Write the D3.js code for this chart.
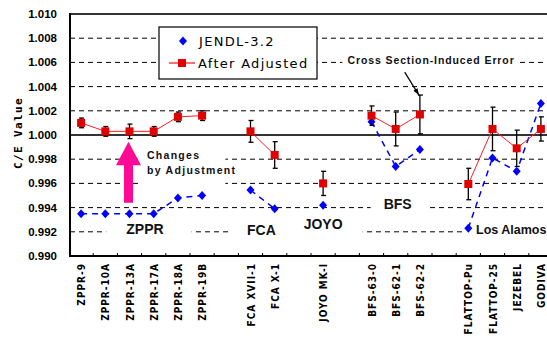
<!DOCTYPE html>
<html>
<head>
<meta charset="utf-8">
<script src="https://cdn.jsdelivr.net/npm/d3@7"></script>
<style>
  body { margin: 0; background: #fff; }
  svg { display: block; }
  .tick-lab { font-family: "DejaVu Sans Condensed", sans-serif; font-weight: bold; }
  .y-lab { font-family: "Liberation Sans", Arial, sans-serif; font-weight: bold; }
  .note { font-family: "Liberation Sans", Arial, sans-serif; font-weight: bold; fill: #111; }
</style>
</head>
<body>
<div id="chart"></div>
<script>
// experiments along the x axis ("" = empty slot between groups)
var categories = ["ZPPR-9", "ZPPR-10A", "ZPPR-13A", "ZPPR-17A", "ZPPR-18A", "ZPPR-19B", "",
                  "FCA XVII-1", "FCA X-1", "", "JOYO MK-I", "",
                  "BFS-63-0", "BFS-62-1", "BFS-62-2", "",
                  "FLATTOP-Pu", "FLATTOP-25", "JEZEBEL", "GODIVA"];

// C/E values
var jendl32  = [0.9935, 0.9935, 0.9935, 0.9935, 0.9948, 0.9950, null,
                0.99545, 0.9939, null, 0.9942, null,
                1.0011, 0.9974, 0.9988, null,
                0.9923, 0.9981, 0.9970, 1.0026];
var adjusted = [1.0010, 1.0003, 1.0003, 1.0003, 1.0015, 1.0016, null,
                1.0003, 0.99835, null, 0.9960, null,
                1.0016, 1.0005, 1.0017, null,
                0.99595, 1.0005, 0.9989, 1.0005];
// experimental error (half width) on the adjusted values
var errors   = [0.0004, 0.0004, 0.0006, 0.0004, 0.0004, 0.0004, null,
                0.0009, 0.0011, null, 0.0010, null,
                0.0008, 0.0014, 0.0016, null,
                0.0013, 0.0018, 0.0015, 0.0010];

var yTicks = [0.990, 0.992, 0.994, 0.996, 0.998, 1.000, 1.002, 1.004, 1.006, 1.008, 1.010];

var width = 547, height = 339;
var plotLeft = 70, plotTop = 14, plotBottom = 256;
var slot = 24.2;

var svg = d3.select('#chart').append('svg')
    .attr('width', width)
    .attr('height', height);

var x = d3.scaleBand()
    .domain(d3.range(categories.length))
    .range([69, 69 + slot * categories.length])
    .padding(0);

var y = d3.scaleLinear()
    .domain([0.990, 1.010])
    .range([plotBottom, plotTop]);

var cx = function(i) { return x(i) + x.bandwidth() / 2; };

// grid lines
svg.append('g').selectAll('line')
    .data(yTicks.filter(function(d) { return d > 0.9905 && d < 1.0095 && Math.abs(d - 1) > 1e-6; }))
    .enter().append('line')
    .attr('x1', plotLeft).attr('x2', width)
    .attr('y1', function(d) { return y(d); })
    .attr('y2', function(d) { return y(d); })
    .attr('stroke', '#000')
    .attr('stroke-width', 1)
    .attr('stroke-dasharray', '5,4');

// notes on white boxes (they cut the grid); i = position in slots, v = C/E level
var notes = [
    {lines: ['ZPPR'], i: 2.64, v: 0.9922, size: 14, ls: 0, pad: [20, 28, 6, 5]},
    {lines: ['FCA'], i: 7.45, v: 0.99215, size: 14, ls: 0, pad: [19, 18, 6, 5]},
    {lines: ['JOYO'], i: 10.0, v: 0.99265, size: 14, ls: 0, pad: [10, 20, 5, 5]},
    {lines: ['BFS'], i: 13.08, v: 0.9943, size: 14, ls: 0, pad: [13, 18, 3, 3]},
    {lines: ['Los Alamos'], i: 16.82, v: 0.9922, size: 12.5, ls: 0, anchor: 'start', pad: [12, 40, 4, 4]},
    {lines: ['Cross Section-Induced Error'], i: 14.46, v: 1.00615, size: 10.5, ls: 0.9, pad: [5, 5, 4, 4]},
    {lines: ['Changes', 'by Adjustment'], i: 3.22, v: 0.99836, size: 10.5, ls: 1.3, anchor: 'start', lh: 15, pad: [7, -11, 8, 12]}
];

var noteG = svg.append('g');
notes.forEach(function(n) {
    var g = noteG.append('g');
    var rect = g.append('rect').attr('fill', '#fff');
    var t = g.append('text')
        .attr('class', 'note')
        .attr('text-anchor', n.anchor || 'middle')
        .attr('font-size', n.size)
        .attr('letter-spacing', n.ls);
    n.lines.forEach(function(s, k) {
        t.append('tspan')
            .attr('x', n.anchor == 'start' ? x(0) + n.i * slot : cx(0) + n.i * slot)
            .attr('y', y(n.v) + k * (n.lh || 0) + n.size * 0.36)
            .text(s);
    });
    var b = t.node().getBBox();
    rect.attr('x', b.x - n.pad[0])
        .attr('y', b.y - n.pad[2])
        .attr('width', b.width + n.pad[0] + n.pad[1])
        .attr('height', b.height + n.pad[2] + n.pad[3]);
});

// reference line at 1.000
svg.append('line')
    .attr('x1', plotLeft).attr('x2', width)
    .attr('y1', y(1)).attr('y2', y(1))
    .attr('stroke', '#333').attr('stroke-width', 2);

// frame: top, left, bottom
svg.append('line').attr('x1', plotLeft).attr('x2', width).attr('y1', plotTop).attr('y2', plotTop)
    .attr('stroke', '#333').attr('stroke-width', 2);
svg.append('line').attr('x1', plotLeft).attr('x2', plotLeft).attr('y1', plotTop - 1).attr('y2', plotBottom + 1)
    .attr('stroke', '#000').attr('stroke-width', 2);
svg.append('line').attr('x1', plotLeft).attr('x2', width).attr('y1', plotBottom).attr('y2', plotBottom)
    .attr('stroke', '#000').attr('stroke-width', 2);

// small ticks on the bottom axis at slot edges
svg.append('g').selectAll('line')
    .data(d3.range(1, categories.length + 1))
    .enter().append('line')
    .attr('x1', function(i) { return 69 + i * slot; })
    .attr('x2', function(i) { return 69 + i * slot; })
    .attr('y1', plotBottom - 3).attr('y2', plotBottom)
    .attr('stroke', '#000');

// y tick labels
svg.append('g').selectAll('text')
    .data(yTicks)
    .enter().append('text')
    .attr('class', 'y-lab')
    .attr('x', 57)
    .attr('y', function(d) { return y(d) + 4; })
    .attr('text-anchor', 'end')
    .attr('font-size', 11.5)
    .text(function(d) { return d3.format('.3f')(d); });

// x labels, rotated
svg.append('g').selectAll('text')
    .data(categories)
    .enter().append('text')
    .attr('class', 'tick-lab')
    .attr('font-size', 10)
    .attr('letter-spacing', 1)
    .attr('text-anchor', 'end')
    .attr('transform', function(d, i) { return 'translate(' + (cx(i) + 4) + ',263) rotate(-90)'; })
    .text(function(d) { return d; });

// y axis title
svg.append('text')
    .attr('transform', 'translate(22,133) rotate(-90)')
    .attr('text-anchor', 'middle')
    .attr('font-family', '"DejaVu Sans Mono", monospace')
    .attr('font-weight', 'bold')
    .attr('font-size', 11)
    .attr('letter-spacing', 1.4)
    .text('C/E Value');

// magenta "changes" arrow
var ax = cx(2) - 1;
var arrowPts = [[ax - 4.5, y(0.9944)], [ax - 4.5, y(0.9975)], [ax - 12.5, y(0.9975)], [ax, y(0.99945)],
                [ax + 12.5, y(0.9975)], [ax + 4.5, y(0.9975)], [ax + 4.5, y(0.9944)]];
svg.append('path')
    .attr('d', 'M' + arrowPts.join('L') + 'Z')
    .attr('fill', '#ff0a94');

// JENDL-3.2 series: dashed blue line with diamonds
var line = d3.line()
    .defined(function(d) { return d != null; })
    .x(function(d, i) { return cx(i); })
    .y(function(d) { return y(d); });

svg.append('path')
    .attr('d', line(jendl32))
    .attr('fill', 'none')
    .attr('stroke', '#0000ff')
    .attr('stroke-width', 1.5)
    .attr('stroke-dasharray', '6,5');

var diamond = function(px, py) {
    return 'M' + px + ',' + (py - 4.5) + 'L' + (px + 4) + ',' + py + 'L' + px + ',' + (py + 4.5) + 'L' + (px - 4) + ',' + py + 'Z';
};

svg.append('g').selectAll('path')
    .data(jendl32.map(function(v, i) { return {v: v, i: i}; }).filter(function(d) { return d.v != null; }))
    .enter().append('path')
    .attr('d', function(d) { return diamond(cx(d.i), y(d.v)); })
    .attr('fill', '#0000ff');

// after adjustment: red line
svg.append('path')
    .attr('d', line(adjusted))
    .attr('fill', 'none')
    .attr('stroke', '#ff2020')
    .attr('stroke-width', 1);

var adj = adjusted.map(function(v, i) { return {v: v, i: i, e: errors[i]}; })
    .filter(function(d) { return d.v != null; });

// error bars
var eb = svg.append('g').selectAll('g')
    .data(adj)
    .enter().append('g')
    .attr('stroke', '#000')
    .attr('stroke-width', 1.3);
eb.append('line')
    .attr('x1', function(d) { return cx(d.i); }).attr('x2', function(d) { return cx(d.i); })
    .attr('y1', function(d) { return y(d.v + d.e); }).attr('y2', function(d) { return y(d.v - d.e); });
eb.append('line')
    .attr('x1', function(d) { return cx(d.i) - 2; }).attr('x2', function(d) { return cx(d.i) + 3; })
    .attr('y1', function(d) { return y(d.v + d.e); }).attr('y2', function(d) { return y(d.v + d.e); });
eb.append('line')
    .attr('x1', function(d) { return cx(d.i) - 2; }).attr('x2', function(d) { return cx(d.i) + 3; })
    .attr('y1', function(d) { return y(d.v - d.e); }).attr('y2', function(d) { return y(d.v - d.e); });

svg.append('g').selectAll('rect')
    .data(adj)
    .enter().append('rect')
    .attr('x', function(d) { return cx(d.i) - 4; })
    .attr('y', function(d) { return y(d.v) - 4; })
    .attr('width', 8).attr('height', 8)
    .attr('fill', '#e00000');

// arrow from the cross-section note down to BFS-62-2
var a0 = [cx(13) + 9, y(1.0052)], a1 = [cx(14) - 1, y(1.0033)];
svg.append('line')
    .attr('x1', a0[0]).attr('y1', a0[1]).attr('x2', a1[0]).attr('y2', a1[1])
    .attr('stroke', '#000').attr('stroke-width', 1.2);
var ang = Math.atan2(a1[1] - a0[1], a1[0] - a0[0]);
var head = [a1,
    [a1[0] - 7 * Math.cos(ang - 0.35), a1[1] - 7 * Math.sin(ang - 0.35)],
    [a1[0] - 7 * Math.cos(ang + 0.35), a1[1] - 7 * Math.sin(ang + 0.35)]];
svg.append('path').attr('d', 'M' + head.join('L') + 'Z').attr('fill', '#000');

// legend
var lg = svg.append('g').attr('transform', 'translate(159,27)');
lg.append('rect')
    .attr('width', 158).attr('height', 52)
    .attr('fill', '#fff').attr('stroke', '#000').attr('stroke-width', 1.2);
lg.append('path').attr('d', diamond(24, 14)).attr('fill', '#0000ff');
lg.append('text').attr('x', 40).attr('y', 19)
    .attr('font-family', '"DejaVu Sans", sans-serif').attr('font-size', 13).attr('letter-spacing', 1.3)
    .text('JENDL-3.2');
lg.append('line').attr('x1', 10).attr('x2', 36).attr('y1', 36).attr('y2', 36)
    .attr('stroke', '#ff2020').attr('stroke-width', 1.3);
lg.append('rect').attr('x', 19).attr('y', 32).attr('width', 8).attr('height', 8).attr('fill', '#e00000');
lg.append('text').attr('x', 39).attr('y', 41)
    .attr('font-family', '"DejaVu Sans", sans-serif').attr('font-size', 13).attr('letter-spacing', 1.3)
    .text('After Adjusted');
</script>
</body>
</html>
